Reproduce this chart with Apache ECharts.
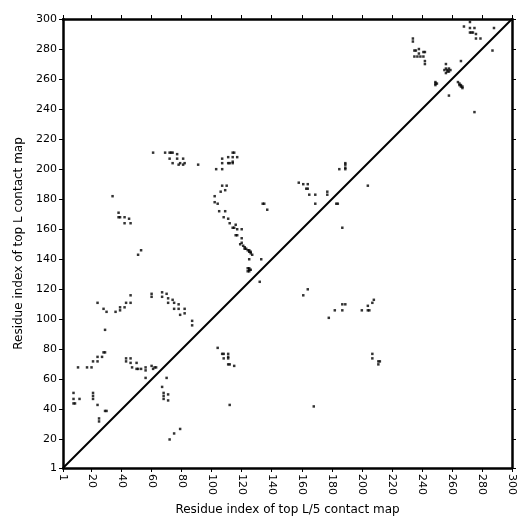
<!DOCTYPE html>
<html>
<head>
<meta charset="utf-8">
<script src="https://cdn.jsdelivr.net/npm/echarts@6/dist/echarts.min.js"></script>
<style>
    html, body {margin: 0; padding: 0; background: #fff;}
    #main {width: 532px; height: 532px;}
</style>
</head>
<body>
<div id="main"></div>
<script>
// tick positions shared by both axes
var tickValues = [1, 20, 40, 60, 80, 100, 120, 140, 160, 180, 200, 220, 240, 260, 280, 300];

// diagonal reference line
var diagonal = [[1, 1], [300, 300]];

// contacts, grouped roughly by region of the map  [x, y]
var lowLeft = [
    [8, 51], [8, 47], [8, 44], [9, 44], [12, 47], [11, 68], [17, 68], [20, 68],
    [21, 51], [21, 49], [21, 47], [24, 43], [25, 34], [25, 32], [29, 39], [30, 39],
    [21, 72], [24, 72], [24, 75], [27, 75], [28, 78], [29, 78], [29, 93],
    [72, 20], [75, 24], [79, 27]
];
var lowMid = [
    [43, 74], [46, 74], [43, 72], [46, 71], [50, 71], [47, 68], [50, 67], [51, 67],
    [53, 67], [56, 68], [56, 66], [60, 69], [62, 68], [63, 68], [61, 67], [56, 61],
    [67, 55], [70, 61], [68, 51], [68, 49], [68, 47], [71, 50], [71, 46],
    [24, 111], [28, 107], [30, 105], [36, 105], [39, 108], [39, 106], [42, 108],
    [43, 111], [46, 111], [46, 116], [60, 117], [60, 115], [67, 118], [67, 115],
    [70, 117], [71, 114], [74, 113], [71, 111], [75, 111], [78, 110], [75, 107],
    [78, 107], [79, 103], [82, 107], [82, 104], [87, 99], [87, 96]
];
var upLeft = [
    [34, 182], [38, 171], [38, 168], [39, 168], [42, 168], [45, 167], [42, 164],
    [46, 164], [53, 146], [51, 143],
    [61, 211], [69, 211], [72, 211], [73, 211], [74, 211], [77, 210], [72, 207],
    [77, 207], [81, 207], [74, 204], [79, 204], [82, 204], [78, 203], [81, 203],
    [91, 203]
];
var midBand = [
    [114, 211], [115, 211], [107, 207], [111, 208], [114, 208], [114, 205], [117, 208],
    [107, 204], [111, 204], [112, 204], [114, 204], [103, 200], [107, 200],
    [107, 189], [110, 189], [109, 186], [106, 185], [102, 182], [102, 178], [104, 177],
    [105, 172], [109, 172], [108, 168], [111, 167], [112, 164], [116, 163],
    [114, 161], [115, 161], [117, 160], [120, 160], [116, 156], [117, 156], [120, 154],
    [119, 150], [120, 151], [121, 149], [122, 148], [123, 147], [124, 146], [125, 145],
    [126, 144], [127, 143], [125, 146], [126, 145], [122, 147], [125, 140], [133, 140],
    [124, 134], [125, 134], [125, 133], [126, 133], [124, 132], [125, 132], [132, 125],
    [134, 177], [135, 177], [137, 173],
    [104, 81], [107, 77], [108, 77], [111, 77], [108, 74], [111, 74], [111, 75],
    [111, 70], [112, 70], [115, 69], [112, 43]
];
var midRight = [
    [158, 191], [161, 190], [164, 190], [163, 187], [164, 187], [165, 183], [169, 183],
    [169, 177], [177, 185], [177, 183], [183, 177], [184, 177], [185, 200], [189, 203],
    [189, 201], [189, 200], [204, 189], [187, 161], [189, 204],
    [164, 120], [161, 116], [168, 42], [178, 101], [182, 106], [187, 106], [187, 110],
    [189, 110], [200, 106], [204, 106], [205, 106], [204, 109], [207, 111], [208, 113],
    [207, 77], [207, 74], [211, 72], [212, 72], [211, 70]
];
var upRight = [
    [234, 287], [234, 285], [235, 279], [236, 279], [238, 280], [238, 277], [235, 275],
    [237, 275], [239, 275], [241, 278], [242, 278], [241, 275], [242, 272], [242, 270],
    [256, 270], [266, 272], [255, 266], [256, 267], [257, 266], [257, 265], [258, 267],
    [258, 265], [259, 266], [256, 264], [249, 258], [249, 257], [250, 257], [249, 256],
    [264, 258], [265, 257], [265, 256], [266, 256], [266, 255], [267, 255], [267, 254],
    [258, 249], [275, 238],
    [268, 295], [272, 298], [272, 294], [272, 291], [273, 291], [274, 291], [275, 294],
    [276, 290], [276, 287], [279, 287], [288, 294], [287, 279]
];

var contacts = [].concat(lowLeft, lowMid, upLeft, midBand, midRight, upRight);

var myChart = echarts.init(document.getElementById('main'));

var font = 'DejaVu Sans';
var baseAxis = {
    type: 'value',
    min: 1,
    max: 300,
    splitLine: {show: false},
    axisLine: {show: true, onZero: false, lineStyle: {color: '#000', width: 2.5}},
    axisTick: {show: true, inside: false, length: 4, customValues: tickValues, lineStyle: {color: '#000', width: 1}}
};

myChart.setOption({
    animation: false,
    backgroundColor: '#fff',
    grid: {left: 63, right: 20, top: 19, bottom: 64, show: false},
    xAxis: [
        Object.assign({}, baseAxis, {
            position: 'bottom',
            name: 'Residue index of top L/5 contact map',
            nameLocation: 'middle',
            nameGap: 36,
            nameTextStyle: {fontFamily: font, fontSize: 12, color: '#000'},
            axisLabel: {customValues: tickValues, rotate: -90, fontFamily: font, fontSize: 11, color: '#000', margin: 6}
        }),
        Object.assign({}, baseAxis, {
            position: 'top',
            axisLabel: {show: false}
        })
    ],
    yAxis: [
        Object.assign({}, baseAxis, {
            position: 'left',
            name: 'Residue index of top L contact map',
            nameLocation: 'middle',
            nameGap: 36,
            nameTextStyle: {fontFamily: font, fontSize: 12, color: '#000'},
            axisLabel: {customValues: tickValues, fontFamily: font, fontSize: 11, color: '#000', margin: 6}
        }),
        Object.assign({}, baseAxis, {
            position: 'right',
            axisLabel: {show: false}
        })
    ],
    series: [
        {
            name: 'diagonal',
            type: 'line',
            data: diagonal,
            symbol: 'none',
            lineStyle: {color: '#000', width: 2},
            silent: true
        },
        {
            name: 'contacts',
            type: 'scatter',
            data: contacts,
            symbol: 'rect',
            symbolSize: 2.5,
            itemStyle: {color: '#000'},
            silent: true
        }
    ]
});
</script>
</body>
</html>
